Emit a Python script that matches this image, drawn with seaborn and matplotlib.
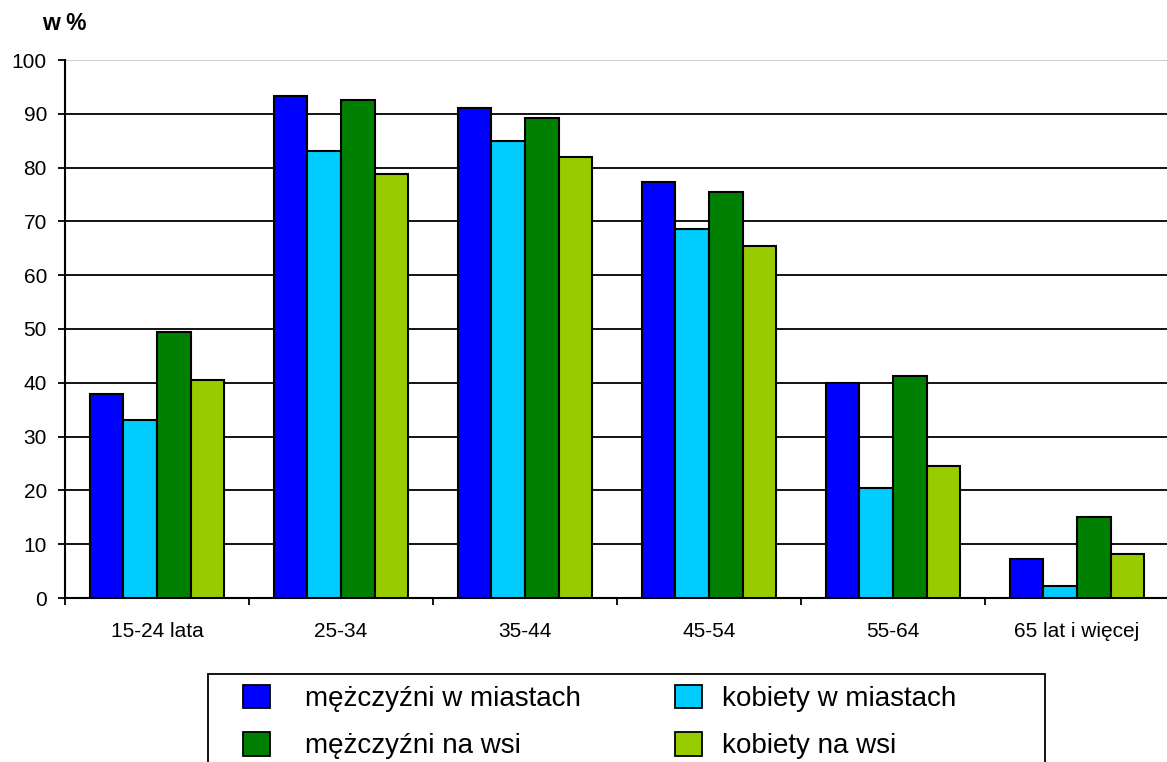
import numpy as np
import pandas as pd
import matplotlib
matplotlib.use("Agg")
import matplotlib.pyplot as plt
from matplotlib.patches import Patch, Rectangle
from matplotlib.ticker import FixedLocator
import seaborn as sns

# --- dane -----------------------------------------------------------------
grupy = ["15-24 lata", "25-34", "35-44", "45-54", "55-64", "65 lat i więcej"]
serie = ["mężczyźni w miastach", "kobiety w miastach",
         "mężczyźni na wsi", "kobiety na wsi"]

mezczyzni_miasta = [37.9, 93.4, 91.1, 77.4, 39.9, 7.3]
kobiety_miasta = [33.1, 83.0, 85.0, 68.6, 20.5, 2.2]
mezczyzni_wies = [49.5, 92.6, 89.2, 75.5, 41.2, 15.1]
kobiety_wies = [40.5, 78.9, 82.0, 65.4, 24.5, 8.1]

kolory = ["#0000FF", "#00CCFF", "#008000", "#99CC00"]
y_ticks = list(range(0, 101, 10))

# --- styl -----------------------------------------------------------------
sns.set_style("white")
plt.rcParams["font.family"] = ["Liberation Sans", "DejaVu Sans"]
plt.rcParams.update({
    "text.color": "black",
    "axes.labelcolor": "black",
    "xtick.color": "black",
    "ytick.color": "black",
})

df = pd.DataFrame({
    "grupa": grupy * 4,
    "seria": np.repeat(serie, len(grupy)),
    "wartosc": mezczyzni_miasta + kobiety_miasta + mezczyzni_wies + kobiety_wies,
})

W, H = 1167, 762
fig = plt.figure(figsize=(W / 100, H / 100), dpi=100)
ax = fig.add_axes([65 / W, 1 - 598 / H, 1104 / W, 538 / H])

sns.barplot(
    data=df, x="grupa", y="wartosc", hue="seria",
    order=grupy, hue_order=serie, palette=kolory, saturation=1,
    width=0.73, edgecolor="black", linewidth=1.5,
    legend=False, ax=ax, zorder=3,
)

ax.set_xlim(-0.5, len(grupy) - 0.5)
ax.set_ylim(0, 100)
ax.set_yticks(y_ticks)
ax.set_xlabel("")
ax.set_ylabel("")

# siatka
ax.set_axisbelow(True)
ax.yaxis.grid(True, color="black", linewidth=1.3)
ax.get_ygridlines()[-1].set_color("#c8c8c8")

# osie
for side in ["top", "right"]:
    ax.spines[side].set_visible(False)
for side in ["left", "bottom"]:
    ax.spines[side].set_color("black")
    ax.spines[side].set_linewidth(1.5)

ax.tick_params(axis="y", direction="out", length=5, width=1.3, pad=8,
               labelsize=15, left=True)
ax.tick_params(axis="x", which="major", length=0, pad=17, labelsize=15)
ax.xaxis.set_minor_locator(FixedLocator(np.arange(-0.5, len(grupy), 1.0)))
ax.tick_params(axis="x", which="minor", direction="out", length=5,
               width=1.3, bottom=True)

fig.text(64 / W, 1 - 24 / H, "w %", ha="center", va="center",
         fontsize=16.5, fontweight="bold")

# legenda - dwie kolumny ustawione osobno
uchwyty = [Patch(facecolor=c, edgecolor="black", linewidth=1.3) for c in kolory]
kolumny = [([0, 2], 243, 1.26), ([1, 3], 675, 0.72)]
for idx, x0, pad in kolumny:
    fig.legend(
        [uchwyty[i] for i in idx], [serie[i] for i in idx],
        loc="upper left", bbox_to_anchor=(x0 / W, 1 - 684.5 / H),
        frameon=False, borderpad=0, borderaxespad=0, fontsize=20,
        handlelength=0.97, handleheight=0.94, handletextpad=pad,
        labelspacing=0.72,
    )

fig.patches.append(Rectangle(
    (208 / W, -0.02), 837 / W, (H * 1.02 - 674) / H,
    transform=fig.transFigure, fill=False, edgecolor="black", linewidth=1.3,
))

fig.savefig("out.png", dpi=100)
